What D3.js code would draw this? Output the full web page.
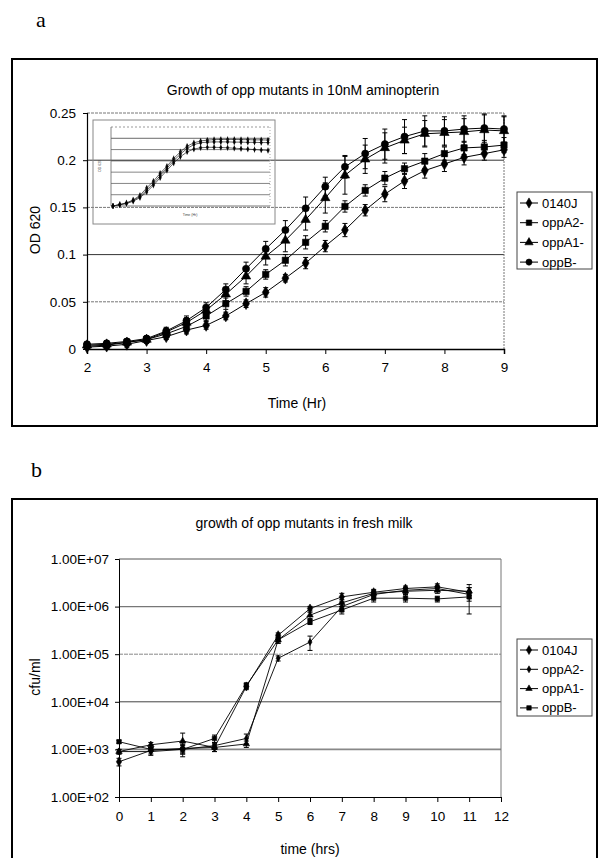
<!DOCTYPE html>
<html><head><meta charset="utf-8">
<script src="https://cdn.jsdelivr.net/npm/d3@7"></script>
<style>body{margin:0;background:#fff} svg{display:block;font-family:"Liberation Sans",Arial,sans-serif}</style>
</head><body>
<svg id="c" width="600" height="858"></svg>
<script>
// ---------- Chart a data ----------
const titleA = "Growth of opp mutants in 10nM aminopterin";
const timeA = [2, 2.33, 2.67, 3, 3.33, 3.67, 4, 4.33, 4.67, 5, 5.33, 5.67, 6, 6.33, 6.67, 7, 7.33, 7.67, 8, 8.33, 8.67, 9];
const seriesNamesA = ["0140J", "oppA2-", "oppA1-", "oppB-"];
const od0140J = [0.002,0.003,0.005,0.009,0.013,0.020,0.025,0.035,0.048,0.060,0.075,0.091,0.109,0.126,0.147,0.164,0.178,0.189,0.196,0.203,0.207,0.211];
const odOppA2 = [0.003,0.004,0.007,0.010,0.016,0.024,0.035,0.048,0.061,0.079,0.094,0.113,0.130,0.151,0.168,0.181,0.191,0.199,0.207,0.213,0.214,0.216];
const odOppA1 = [0.004,0.005,0.007,0.010,0.018,0.028,0.041,0.058,0.077,0.098,0.115,0.137,0.160,0.184,0.201,0.213,0.221,0.228,0.229,0.230,0.232,0.231];
const odOppB  = [0.005,0.006,0.008,0.011,0.019,0.030,0.044,0.063,0.085,0.106,0.126,0.149,0.172,0.193,0.207,0.217,0.225,0.231,0.231,0.233,0.234,0.233];
const err0140J = [0.002,0.002,0.003,0.003,0.003,0.004,0.004,0.004,0.004,0.005,0.004,0.006,0.006,0.007,0.006,0.008,0.008,0.008,0.008,0.008,0.007,0.008];
const errOppA2 = [0.003,0.003,0.003,0.003,0.003,0.004,0.005,0.006,0.005,0.005,0.006,0.007,0.006,0.006,0.006,0.007,0.006,0.008,0.007,0.007,0.007,0.008];
const errOppA1 = [0.003,0.003,0.003,0.003,0.004,0.005,0.005,0.007,0.008,0.009,0.012,0.011,0.016,0.020,0.015,0.016,0.014,0.014,0.014,0.014,0.016,0.015];
const errOppB  = [0.003,0.003,0.003,0.003,0.004,0.005,0.005,0.006,0.007,0.008,0.010,0.012,0.010,0.012,0.016,0.016,0.018,0.016,0.015,0.014,0.015,0.014];
const xTicksA = [2,3,4,5,6,7,8,9];
const yTicksA = [0,0.05,0.1,0.15,0.2,0.25];
const yTickLabelsA = ["0","0.05","0.1","0.15","0.2","0.25"];

// inset (thumbnail of full growth curve)
const insetTime = [0,0.5,1,1.5,2,2.5,3,3.5,4,4.5,5,5.5,6,6.5,7,7.5,8,8.5,9,9.5,10,10.5,11,11.5];
const insetS1 = [0.000,0.007,0.014,0.027,0.047,0.080,0.110,0.145,0.176,0.210,0.240,0.265,0.280,0.288,0.292,0.294,0.295,0.295,0.295,0.294,0.294,0.293,0.293,0.292];
const insetS2 = [0.000,0.006,0.012,0.024,0.042,0.070,0.100,0.135,0.168,0.200,0.230,0.255,0.272,0.280,0.283,0.284,0.284,0.284,0.283,0.283,0.282,0.282,0.281,0.281];
const insetS3 = [0.000,0.005,0.011,0.021,0.037,0.062,0.092,0.125,0.158,0.190,0.218,0.240,0.252,0.258,0.260,0.260,0.259,0.258,0.256,0.254,0.252,0.250,0.248,0.246];
const insetGrid = [0.05,0.10,0.15,0.20,0.25,0.30];

// ---------- Chart b data ----------
const titleB = "growth of opp mutants in fresh milk";
const timeB = [0,1,2,3,4,5,6,7,8,9,10,11];
const seriesNamesB = ["0104J", "oppA2-", "oppA1-", "oppB-"];
const cfu0104J = [5.5e2, 9.5e2, 1.05e3, 1.1e3, 2.1e4, 2.5e5, 9.1e5, 1.6e6, 2.0e6, 2.4e6, 2.6e6, 2.0e6];
const cfuOppA2 = [9.0e2, 9.0e2, 1.0e3, 1.2e3, 1.7e3, 8.2e4, 1.8e5, 1.0e6, 1.8e6, 2.2e6, 2.4e6, 1.8e6];
const cfuOppA1 = [9.0e2, 1.25e3, 1.5e3, 1.1e3, 1.3e3, 2.0e5, 6.6e5, 1.2e6, 1.9e6, 2.1e6, 2.2e6, 2.1e6];
const cfuOppB  = [1.45e3, 1.0e3, 1.0e3, 1.7e3, 2.2e4, 2.0e5, 4.8e5, 8.5e5, 1.5e6, 1.5e6, 1.45e6, 1.6e6];
const errB0104J = [1.0e2, 1.5e2, 2.0e2, 2.0e2, 3.0e3, 3.0e4, 1.0e5, 3.0e5, 3.0e5, 3.0e5, 4.0e5, 5.0e5];
const errBOppA2 = [1.0e2, 1.5e2, 3.0e2, 2.0e2, 4.0e2, 1.0e4, 6.0e4, 2.0e5, 3.0e5, 3.0e5, 3.0e5, 1.1e6];
const errBOppA1 = [1.0e2, 1.5e2, 7.0e2, 2.0e2, 2.0e2, 3.0e4, 1.0e5, 2.0e5, 3.0e5, 3.0e5, 3.0e5, 4.0e5];
const errBOppB  = [1.0e2, 1.0e2, 2.0e2, 3.0e2, 3.0e3, 3.0e4, 6.0e4, 1.5e5, 2.5e5, 2.5e5, 2.0e5, 3.0e5];
const xTicksB = [0,1,2,3,4,5,6,7,8,9,10,11,12];
const yTicksB = [1e2,1e3,1e4,1e5,1e6,1e7];
const yTickLabelsB = ["1.00E+02","1.00E+03","1.00E+04","1.00E+05","1.00E+06","1.00E+07"];

// ---------- drawing ----------
const svg = d3.select("#c");
const FONT = "Liberation Sans, Arial, sans-serif";
const TICKFS = 13.5, LABELFS = 14;

function frame(x0, y0, x1, y1) {
  svg.append("rect").attr("x", x0).attr("y", y0).attr("width", x1 - x0).attr("height", y1 - y0)
    .attr("fill", "none").attr("stroke", "#000").attr("stroke-width", 2);
}
function marker(g, type, x, y, size) {
  g.append("path").attr("d", d3.symbol().type(type).size(size)())
    .attr("transform", `translate(${x},${y})`).attr("fill", "#000").attr("stroke", "#000").attr("stroke-width", 0.6);
}

// panel letters
svg.append("text").attr("x", 36).attr("y", 27).attr("font-family", "Liberation Serif, Times New Roman, serif")
  .attr("font-size", 22).text("a");
svg.append("text").attr("x", 31).attr("y", 477).attr("font-family", "Liberation Serif, Times New Roman, serif")
  .attr("font-size", 22).text("b");

// ===== Chart a =====
frame(12, 59, 597, 426);
const xA = d3.scaleLinear().domain([2, 9]).range([87, 504]);
const yA = d3.scaleLinear().domain([0, 0.25]).range([349, 113]);
const gA = svg.append("g");

yTicksA.filter(v => v > 0).forEach(v => {
  const dark = (v === 0.1 || v === 0.2);
  gA.append("line").attr("x1", xA(2)).attr("x2", xA(9)).attr("y1", yA(v)).attr("y2", yA(v))
    .attr("stroke", dark ? "#333" : "#777").attr("stroke-width", 1)
    .attr("stroke-dasharray", dark ? null : "3,1");
});
gA.append("line").attr("x1", xA(9)).attr("x2", xA(9)).attr("y1", yA(0.25)).attr("y2", yA(0))
  .attr("stroke", "#777").attr("stroke-dasharray", "2,1");

const axXA = d3.axisBottom(xA).tickValues(xTicksA).tickSize(5).tickPadding(8).tickFormat(d3.format("d"));
gA.append("g").attr("transform", `translate(0,${yA(0)})`).call(axXA)
  .call(g => { g.select(".domain").attr("stroke", "#000").attr("stroke-width", 1.5);
               g.selectAll("text").attr("font-family", FONT).attr("font-size", TICKFS).attr("fill", "#000"); });
const axYA = d3.axisLeft(yA).tickValues(yTicksA).tickSize(4).tickPadding(7)
  .tickFormat((d, i) => yTickLabelsA[i]);
gA.append("g").attr("transform", `translate(${xA(2)},0)`).call(axYA)
  .call(g => { g.select(".domain").attr("stroke", "#000").attr("stroke-width", 1.2);
               g.selectAll("text").attr("font-family", FONT).attr("font-size", TICKFS).attr("fill", "#000"); });

gA.append("text").attr("x", 303).attr("y", 95).attr("text-anchor", "middle")
  .attr("font-family", FONT).attr("font-size", LABELFS).text(titleA);
gA.append("text").attr("x", 297).attr("y", 408).attr("text-anchor", "middle")
  .attr("font-family", FONT).attr("font-size", LABELFS).text("Time (Hr)");
gA.append("text").attr("transform", "translate(40,230) rotate(-90)").attr("text-anchor", "middle")
  .attr("font-family", FONT).attr("font-size", LABELFS).text("OD 620");

// inset
const gI = svg.append("g");
gI.append("rect").attr("x", 93).attr("y", 120).attr("width", 182).attr("height", 104)
  .attr("fill", "none").attr("stroke", "#888").attr("stroke-width", 1);
const xI = d3.scaleLinear().domain([0, 11.5]).range([113, 268]);
const yI = d3.scaleLinear().domain([0, 0.35]).range([206, 127]);
insetGrid.forEach(v => {
  gI.append("line").attr("x1", 111).attr("x2", 270).attr("y1", yI(v)).attr("y2", yI(v))
    .attr("stroke", v === 0.30 || v === 0.20 ? "#444" : "#666").attr("stroke-width", 0.8);
});
gI.append("line").attr("x1", 111).attr("x2", 270).attr("y1", yI(0.35)).attr("y2", yI(0.35))
  .attr("stroke", "#999").attr("stroke-dasharray", "2,2");
gI.append("line").attr("x1", 111).attr("x2", 111).attr("y1", yI(0.35)).attr("y2", yI(0))
  .attr("stroke", "#666").attr("stroke-width", 0.8);
gI.append("line").attr("x1", 111).attr("x2", 270).attr("y1", yI(0)).attr("y2", yI(0))
  .attr("stroke", "#555").attr("stroke-width", 0.8);
gI.append("line").attr("x1", 270).attr("x2", 270).attr("y1", yI(0.35)).attr("y2", yI(0))
  .attr("stroke", "#aaa").attr("stroke-dasharray", "1,2");
[insetS1, insetS2, insetS3].forEach(s => {
  gI.append("path").datum(s.map((v, i) => [insetTime[i], v]))
    .attr("d", d3.line().x(d => xI(d[0])).y(d => yI(d[1])))
    .attr("fill", "none").attr("stroke", "#222").attr("stroke-width", 0.7);
  s.forEach((v, i) => {
    gI.append("line").attr("x1", xI(insetTime[i])).attr("x2", xI(insetTime[i]))
      .attr("y1", yI(v) - 3).attr("y2", yI(v) + 3).attr("stroke", "#222").attr("stroke-width", 0.7);
    marker(gI, d3.symbolDiamond, xI(insetTime[i]), yI(v), 5);
  });
});
gI.append("text").attr("x", 190).attr("y", 216).attr("text-anchor", "middle")
  .attr("font-family", FONT).attr("font-size", 3.5).attr("fill", "#444").text("Time (Hr)");
gI.append("text").attr("transform", "translate(101,166) rotate(-90)").attr("text-anchor", "middle")
  .attr("font-family", FONT).attr("font-size", 3.5).attr("fill", "#444").text("OD 620");

const seriesA = [
  {name: seriesNamesA[0], v: od0140J, e: err0140J, sym: d3.symbolDiamond, size: 40},
  {name: seriesNamesA[1], v: odOppA2, e: errOppA2, sym: d3.symbolSquare, size: 40},
  {name: seriesNamesA[2], v: odOppA1, e: errOppA1, sym: d3.symbolTriangle, size: 38},
  {name: seriesNamesA[3], v: odOppB,  e: errOppB,  sym: d3.symbolCircle, size: 40}
];
const lineA = d3.line().x(d => xA(d[0])).y(d => yA(d[1]));
seriesA.forEach(s => {
  const pts = s.v.map((v, i) => [timeA[i], v]);
  gA.append("path").datum(pts).attr("d", lineA).attr("fill", "none").attr("stroke", "#000").attr("stroke-width", 1);
  pts.forEach((p, i) => {
    const x = xA(p[0]), y1 = yA(Math.max(0, p[1] - s.e[i])), y2 = yA(p[1] + s.e[i]);
    gA.append("line").attr("x1", x).attr("x2", x).attr("y1", y1).attr("y2", y2).attr("stroke", "#000").attr("stroke-width", 1);
    gA.append("line").attr("x1", x - 2.5).attr("x2", x + 2.5).attr("y1", y1).attr("y2", y1).attr("stroke", "#000");
    gA.append("line").attr("x1", x - 2.5).attr("x2", x + 2.5).attr("y1", y2).attr("y2", y2).attr("stroke", "#000");
    marker(gA, s.sym, x, yA(p[1]), s.size);
  });
});

const legA = svg.append("g");
legA.append("rect").attr("x", 517).attr("y", 192).attr("width", 75).attr("height", 77)
  .attr("fill", "#fff").attr("stroke", "#444").attr("stroke-width", 1);
seriesA.forEach((s, i) => {
  const y = 203 + i * 19.7;
  legA.append("line").attr("x1", 520).attr("x2", 538).attr("y1", y).attr("y2", y).attr("stroke", "#000");
  marker(legA, s.sym, 529, y, 30);
  legA.append("text").attr("x", 542).attr("y", y + 4.5).attr("font-family", FONT).attr("font-size", 13).text(s.name);
});

// ===== Chart b =====
frame(12, 499, 597, 870);
const xB = d3.scaleLinear().domain([0, 12]).range([119, 501]);
const yB = d3.scaleLog().domain([1e2, 1e7]).range([797, 559]);
const gB = svg.append("g");
const gridStyleB = {1e3: ["#888", 1.6, null], 1e4: ["#444", 1, null], 1e5: ["#888", 1, "4,1"], 1e6: ["#777", 1.4, null]};
[1e3, 1e4, 1e5, 1e6].forEach(v => {
  const st = gridStyleB[v];
  gB.append("line").attr("x1", xB(0)).attr("x2", xB(12)).attr("y1", yB(v)).attr("y2", yB(v))
    .attr("stroke", st[0]).attr("stroke-width", st[1]).attr("stroke-dasharray", st[2]);
});
gB.append("line").attr("x1", xB(0)).attr("x2", xB(12)).attr("y1", yB(1e7)).attr("y2", yB(1e7)).attr("stroke", "#555");
gB.append("line").attr("x1", xB(12)).attr("x2", xB(12)).attr("y1", yB(1e7)).attr("y2", yB(1e2)).attr("stroke", "#777");

const axXB = d3.axisBottom(xB).tickValues(xTicksB).tickSize(5).tickPadding(9).tickFormat(d3.format("d"));
gB.append("g").attr("transform", `translate(0,${yB(1e2)})`).call(axXB)
  .call(g => { g.select(".domain").attr("stroke", "#000").attr("stroke-width", 1);
               g.selectAll("text").attr("font-family", FONT).attr("font-size", TICKFS).attr("fill", "#000"); });
const axYB = d3.axisLeft(yB).tickValues(yTicksB).tickSize(4).tickPadding(6)
  .tickFormat((d, i) => yTickLabelsB[i]);
gB.append("g").attr("transform", `translate(${xB(0)},0)`).call(axYB)
  .call(g => { g.select(".domain").attr("stroke", "#000").attr("stroke-width", 1);
               g.selectAll("text").attr("font-family", FONT).attr("font-size", TICKFS).attr("fill", "#000"); });

gB.append("text").attr("x", 304).attr("y", 528).attr("text-anchor", "middle")
  .attr("font-family", FONT).attr("font-size", LABELFS).text(titleB);
gB.append("text").attr("x", 310).attr("y", 854).attr("text-anchor", "middle")
  .attr("font-family", FONT).attr("font-size", LABELFS).text("time (hrs)");
gB.append("text").attr("transform", "translate(40,677) rotate(-90)").attr("text-anchor", "middle")
  .attr("font-family", FONT).attr("font-size", LABELFS).text("cfu/ml");

const seriesB = [
  {name: seriesNamesB[0], v: cfu0104J, e: errB0104J, sym: d3.symbolDiamond, size: 24},
  {name: seriesNamesB[1], v: cfuOppA2, e: errBOppA2, sym: d3.symbolDiamond, size: 14},
  {name: seriesNamesB[2], v: cfuOppA1, e: errBOppA1, sym: d3.symbolTriangle, size: 18},
  {name: seriesNamesB[3], v: cfuOppB,  e: errBOppB,  sym: d3.symbolSquare, size: 20}
];
const lineB = d3.line().x(d => xB(d[0])).y(d => yB(d[1]));
seriesB.forEach(s => {
  const pts = s.v.map((v, i) => [timeB[i], v]);
  gB.append("path").datum(pts).attr("d", lineB).attr("fill", "none").attr("stroke", "#000").attr("stroke-width", 0.9);
  pts.forEach((p, i) => {
    const x = xB(p[0]), y1 = yB(Math.max(p[1] * 0.2, p[1] - s.e[i])), y2 = yB(p[1] + s.e[i]);
    gB.append("line").attr("x1", x).attr("x2", x).attr("y1", y1).attr("y2", y2).attr("stroke", "#000").attr("stroke-width", 0.9);
    gB.append("line").attr("x1", x - 2.5).attr("x2", x + 2.5).attr("y1", y1).attr("y2", y1).attr("stroke", "#000");
    gB.append("line").attr("x1", x - 2.5).attr("x2", x + 2.5).attr("y1", y2).attr("y2", y2).attr("stroke", "#000");
    marker(gB, s.sym, x, yB(p[1]), s.size);
  });
});

const legB = svg.append("g");
legB.append("rect").attr("x", 517).attr("y", 639).attr("width", 75).attr("height", 77)
  .attr("fill", "#fff").attr("stroke", "#444").attr("stroke-width", 1);
seriesB.forEach((s, i) => {
  const y = 650 + i * 19.3;
  legB.append("line").attr("x1", 520).attr("x2", 538).attr("y1", y).attr("y2", y).attr("stroke", "#000");
  marker(legB, s.sym, 529, y, s.size);
  legB.append("text").attr("x", 542).attr("y", y + 4.5).attr("font-family", FONT).attr("font-size", 13).text(s.name);
});
</script>
</body></html>
